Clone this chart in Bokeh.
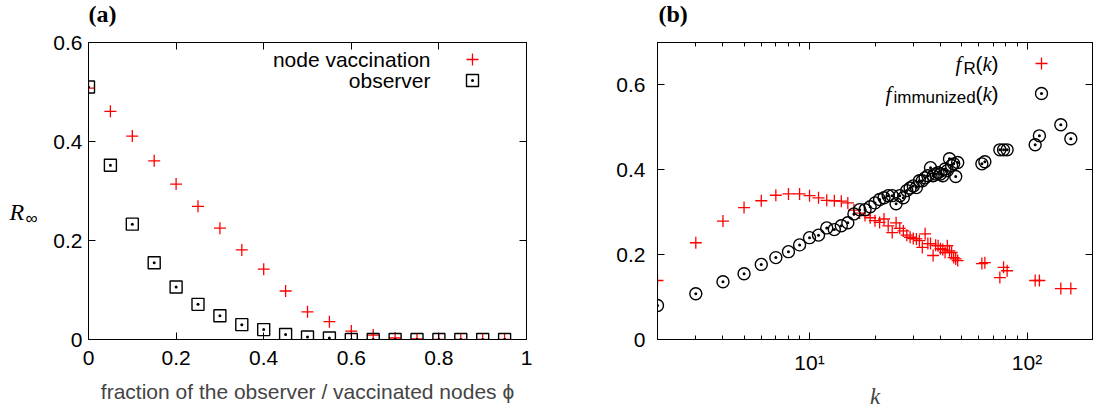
import math
from bokeh.plotting import figure
from bokeh.models import (FixedTicker, LinearAxis, LogAxis, Label,
                          PrintfTickFormatter, CustomJSTickFormatter, Range1d)
from bokeh.core.properties import value
from bokeh.layouts import row, column
from bokeh.embed import file_html
from bokeh.resources import INLINE

# ---------------- data: panel (a) ----------------
phi = [0.00, 0.05, 0.10, 0.15, 0.20, 0.25, 0.30, 0.35, 0.40, 0.45,
       0.50, 0.55, 0.60, 0.65, 0.70, 0.75, 0.80, 0.85, 0.90, 0.95]
r_vaccination = [0.508, 0.461, 0.411, 0.361, 0.314, 0.269, 0.225, 0.181, 0.142, 0.098,
                 0.056, 0.036, 0.017, 0.009, 0.003, 0.001, 0.0, 0.0, 0.0, 0.0]
r_observer = [0.510, 0.352, 0.233, 0.155, 0.106, 0.071, 0.048, 0.030, 0.020, 0.010,
              0.005, 0.003, 0.0, 0.0, 0.0, 0.0, 0.0, 0.0, 0.0, 0.0]

# ---------------- data: panel (b) ----------------
k = [2, 3, 4, 5, 6, 7, 8, 9, 10, 11, 12, 13, 14, 15, 16, 17, 18, 19, 20, 21,
     22, 23, 24, 25, 26, 27, 28, 29, 30, 31, 32, 33, 34, 35, 36, 37, 38, 39, 40, 41,
     42, 43, 44, 45, 46, 47, 48, 62, 64, 75, 78, 81, 109, 114, 143, 159]
f_R = [0.139, 0.228, 0.279, 0.311, 0.327, 0.340, 0.343, 0.343, 0.339, 0.334,
       0.328, 0.327, 0.326, 0.322, 0.305, 0.298, 0.292, 0.287, 0.280, 0.276,
       0.284, 0.268, 0.252, 0.275, 0.262, 0.256, 0.246, 0.241, 0.238, 0.237,
       0.233, 0.217, 0.249, 0.226, 0.226, 0.198, 0.222, 0.221, 0.214, 0.212,
       0.205, 0.221, 0.209, 0.205, 0.193, 0.190, 0.186, 0.179, 0.181, 0.146,
       0.170, 0.162, 0.139, 0.139, 0.120, 0.120]
f_immunized = [0.080, 0.108, 0.136, 0.155, 0.177, 0.193, 0.207, 0.223, 0.240, 0.246,
               0.263, 0.259, 0.268, 0.275, 0.296, 0.306, 0.306, 0.313, 0.322, 0.330,
               0.334, 0.339, 0.339, 0.320, 0.339, 0.334, 0.351, 0.357, 0.362, 0.358,
               0.374, 0.374, 0.381, 0.386, 0.405, 0.386, 0.390, 0.393, 0.390, 0.386,
               0.402, 0.398, 0.426, 0.410, 0.414, 0.384, 0.417, 0.414, 0.419, 0.447,
               0.447, 0.447, 0.459, 0.480, 0.506, 0.473]

a_xticks = [0, 0.2, 0.4, 0.6, 0.8, 1]
a_yticks = [0, 0.2, 0.4, 0.6]
b_yticks = [0, 0.2, 0.4, 0.6]
b_xticks = [10, 100]
b_xminor = [2, 3, 4, 5, 6, 7, 8, 9, 20, 30, 40, 50, 60, 70, 80, 90, 200]

panel_tags = ["(a)", "(b)"]

RED = "#ff0000"
BLACK = "#000000"
SANS = "Liberation Sans"
SERIF = "Liberation Serif"
FS = "21px"

# ---------------- geometry (canvas pixels) ----------------
TOTAL_W, TOTAL_H = 1094, 411
HEAD_H = 28                      # strip holding the panel tags
STRIP_W = 44                     # strip holding the y label of (a)
A_LEFT, A_W = 88, 438
A_FIG_W = 548
B_LEFT, B_W = 657, 435
TOP, H = 42, 297
BOTTOM = TOP + H
BODY_H = TOTAL_H - HEAD_H


def a_x(px):
    return (px - A_LEFT) / A_W * 1.0


def a_y(py):
    return (BOTTOM - py) / H * 0.6


def b_x(px):
    return 10 ** (math.log10(2) + (px - B_LEFT) / B_W * 2.0)


def b_y(py):
    return (BOTTOM - py) / H * 0.7


def blank_fig(w, h):
    p = figure(frame_width=w, frame_height=h,
               min_border_left=0, min_border_right=0, min_border_top=0,
               min_border_bottom=0, x_range=Range1d(0, w),
               y_range=Range1d(h, 0), x_axis_location=None,
               y_axis_location=None, output_backend="svg",
               toolbar_location=None)
    p.grid.visible = False
    p.outline_line_color = None
    p.border_fill_color = "white"
    p.background_fill_color = "white"
    return p


def make_fig(xr, yr, left, right, fw, **kw):
    p = figure(frame_width=fw, frame_height=H,
               min_border_left=left, min_border_right=right,
               min_border_top=TOP - HEAD_H, min_border_bottom=TOTAL_H - BOTTOM,
               x_range=xr, y_range=yr, output_backend="svg",
               toolbar_location=None, **kw)
    p.grid.visible = False
    p.outline_line_color = BLACK
    p.outline_line_width = 1
    p.background_fill_color = "white"
    p.border_fill_color = "white"
    return p


def style_axis(ax, labels=True, standoff=6):
    ax.axis_line_color = BLACK
    ax.axis_line_width = 1
    ax.major_tick_in = 7
    ax.major_tick_out = 0
    ax.minor_tick_in = 4
    ax.minor_tick_out = 0
    ax.major_tick_line_color = BLACK
    ax.minor_tick_line_color = BLACK
    ax.major_label_text_font = SANS
    ax.major_label_text_font_size = FS
    ax.major_label_text_color = BLACK
    ax.major_label_standoff = standoff
    if not labels:
        ax.formatter = CustomJSTickFormatter(code="return ''")
        ax.major_label_text_font_size = "1px"
        ax.major_label_standoff = 0


def lab(p, x, y, text, font=SANS, size=FS, style="normal",
        align="left", baseline="middle"):
    p.add_layout(Label(x=x, y=y, text=text, text_font=font,
                       text_font_size=size, text_font_style=style,
                       text_align=align, text_baseline=baseline,
                       text_color=BLACK))


# ================= header strip with panel tags =================
ph = blank_fig(TOTAL_W, HEAD_H)
ph.text(x=[A_LEFT, B_LEFT + 1], y=[13, 13], text=panel_tags,
        text_font=value(SERIF), text_font_style="bold", text_font_size="24px",
        text_baseline="middle", text_color=BLACK)

# ================= left strip with the y label of (a) =================
ps = blank_fig(STRIP_W, BODY_H)
ps.text(x=[9], y=[197 - HEAD_H], text=["R"], text_font=value(SERIF),
        text_font_style="italic", text_font_size="24px",
        text_baseline="alphabetic", text_color=BLACK)
ps.text(x=[25], y=[204 - HEAD_H], text=["\u221e"], text_font=value(SANS),
        text_font_size="17px", text_baseline="alphabetic", text_color=BLACK)

# ================= panel (a) =================
pa = make_fig(Range1d(0, 1), Range1d(0, 0.6), A_LEFT - STRIP_W,
              A_FIG_W - A_LEFT - A_W, A_W)
fmt = PrintfTickFormatter(format="%g")
pa.xaxis.ticker = FixedTicker(ticks=a_xticks)
pa.yaxis.ticker = FixedTicker(ticks=a_yticks)
pa.xaxis.formatter = fmt
pa.yaxis.formatter = fmt
style_axis(pa.xaxis[0], standoff=11)
style_axis(pa.yaxis[0], standoff=6)
pa.xaxis.axis_label = "fraction of the observer / vaccinated nodes \u03d5"
pa.xaxis.axis_label_text_font = SANS
pa.xaxis.axis_label_text_font_size = FS
pa.xaxis.axis_label_text_font_style = "normal"
pa.xaxis.axis_label_standoff = 12
ta = LinearAxis(ticker=FixedTicker(ticks=a_xticks))
style_axis(ta, labels=False)
pa.add_layout(ta, "above")
ra = LinearAxis(ticker=FixedTicker(ticks=a_yticks))
style_axis(ra, labels=False)
pa.add_layout(ra, "right")

pa.scatter(phi, r_vaccination, marker="cross", size=12,
           line_color=RED, line_width=1.3)
pa.scatter(phi, r_observer, marker="square_dot", size=12,
           line_color=BLACK, fill_color=None, line_width=1.4)

# legend (a)
lab(pa, a_x(430), a_y(59), "node vaccination", align="right")
lab(pa, a_x(430), a_y(80), "observer", align="right")
pa.scatter([a_x(472)], [a_y(59)], marker="cross", size=12,
           line_color=RED, line_width=1.3)
pa.scatter([a_x(472)], [a_y(80)], marker="square_dot", size=12,
           line_color=BLACK, fill_color=None, line_width=1.4)

# ================= panel (b) =================
pb = make_fig(Range1d(2, 200), Range1d(0, 0.7), B_LEFT - A_FIG_W,
              TOTAL_W - B_LEFT - B_W, B_W, x_axis_type="log")
pb.xaxis.ticker = FixedTicker(ticks=b_xticks, minor_ticks=b_xminor)
pb.yaxis.ticker = FixedTicker(ticks=b_yticks)
pb.xaxis.formatter = CustomJSTickFormatter(code="""
const e = Math.round(Math.log10(tick));
const sup = {0: '\u2070', 1: '\u00b9', 2: '\u00b2', 3: '\u00b3'};
return '10' + (sup[e] !== undefined ? sup[e] : String(e));
""")
pb.yaxis.formatter = PrintfTickFormatter(format="%g")
style_axis(pb.xaxis[0], standoff=11)
style_axis(pb.yaxis[0], standoff=12)
pb.xaxis.axis_label = "k"
pb.xaxis.axis_label_text_font = SERIF
pb.xaxis.axis_label_text_font_size = "23px"
pb.xaxis.axis_label_text_font_style = "italic"
pb.xaxis.axis_label_standoff = 7
tb = LogAxis(ticker=FixedTicker(ticks=b_xticks, minor_ticks=b_xminor))
style_axis(tb, labels=False)
pb.add_layout(tb, "above")
rb = LinearAxis(ticker=FixedTicker(ticks=b_yticks))
style_axis(rb, labels=False)
pb.add_layout(rb, "right")

pb.scatter(k, f_R, marker="cross", size=12, line_color=RED, line_width=1.3)
pb.scatter(k, f_immunized, marker="circle_dot", size=12,
           line_color=BLACK, fill_color=None, line_width=1.4)

# legend (b)
lab(pb, b_x(955), b_y(63), "f", font=SERIF, style="italic")
lab(pb, b_x(963), b_y(68), "R", size="17px")
lab(pb, b_x(975), b_y(63), "(")
lab(pb, b_x(982), b_y(63), "k", font=SERIF, style="italic")
lab(pb, b_x(991), b_y(63), ")")
lab(pb, b_x(885), b_y(93), "f", font=SERIF, style="italic")
lab(pb, b_x(893), b_y(97), "immunized", size="17px")
lab(pb, b_x(975), b_y(93), "(")
lab(pb, b_x(982), b_y(93), "k", font=SERIF, style="italic")
lab(pb, b_x(991), b_y(93), ")")
pb.scatter([b_x(1041)], [b_y(63)], marker="cross", size=12,
           line_color=RED, line_width=1.3)
pb.scatter([b_x(1041)], [b_y(93)], marker="circle_dot", size=12,
           line_color=BLACK, fill_color=None, line_width=1.4)

layout = column(ph, row(ps, pa, pb))
open("out.html", "w").write(file_html(layout, INLINE))
